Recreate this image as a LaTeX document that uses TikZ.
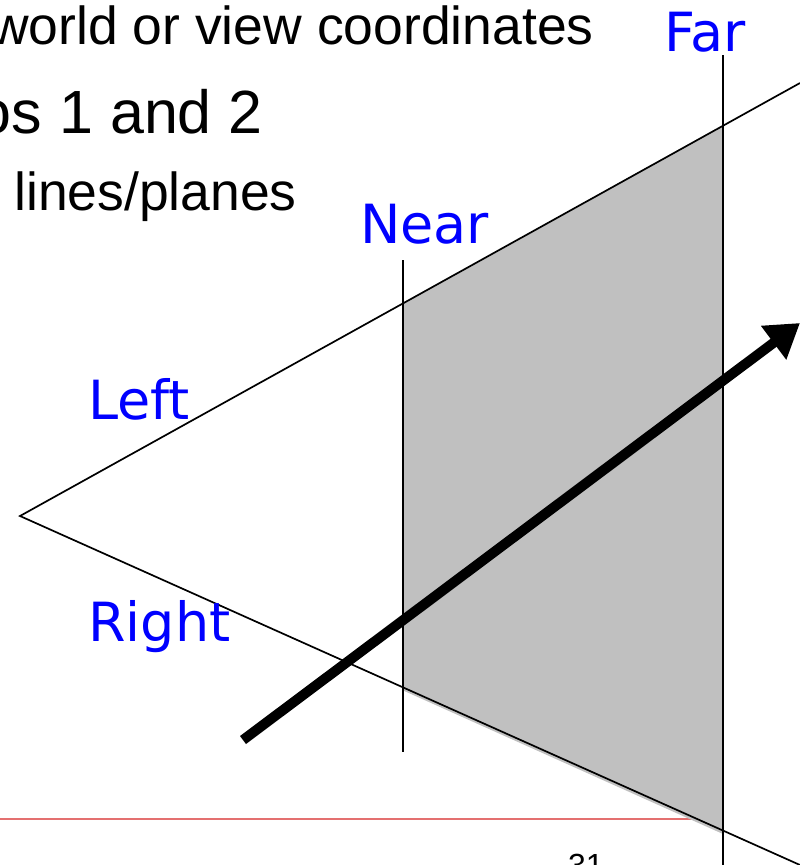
\documentclass[tikz,border=0pt]{standalone}
\usepackage{fontspec}
\setmainfont{Liberation Sans}
\newfontfamily\labfont{DejaVu Sans}
\usetikzlibrary{arrows.meta}
\definecolor{shadegray}{HTML}{C0C0C0}
\definecolor{rulered}{HTML}{E47070}
\definecolor{lblue}{HTML}{0000FF}
\begin{document}
\begin{tikzpicture}[x=1pt,y=-1pt,
  thinline/.style={line width=1.7pt, black},
  lbl/.style={text=lblue, font=\labfont\fontsize{54}{62}\selectfont, inner sep=0pt, anchor=base west},
  bodytext/.style={font=\fontsize{53.5}{60}\selectfont, inner sep=0pt, anchor=base east},
  bigtext/.style={font=\fontsize{61}{68}\selectfont, inner sep=0pt, anchor=base east}]
\useasboundingbox (0,0) rectangle (800,865);
\clip (0,0) rectangle (800,865);
\fill[white] (0,0) rectangle (800,865);
% geometry
\coordinate (apex) at (20,516);
\coordinate (upEnd) at (800,83);
\coordinate (loEnd) at (800,865);
\coordinate (nearTop) at (403,260);
\coordinate (nearBot) at (403,752);
\coordinate (farTop) at (723,55);
\coordinate (farBot) at (723,865);
\coordinate (nU) at (403,303.4);
\coordinate (fU) at (723,125.7);
\coordinate (fL) at (723,834);
\coordinate (nL) at (403,690.4);
\coordinate (ruleA) at (0,819);
\coordinate (ruleB) at (723,819);
\coordinate (arrTail) at (243,740);
\coordinate (arrHead) at (800,323);
% red rule
\draw[rulered, line width=2.5pt] (ruleA) -- (ruleB);
% shaded frustum slice
\fill[shadegray] (nU) -- (fU) -- (fL) -- (nL) -- cycle;
% frustum edges
\draw[thinline] (upEnd) -- (apex) -- (loEnd);
\draw[thinline] (nearTop) -- (nearBot);
\draw[thinline] (farTop) -- (farBot);
% arrow
\draw[line width=10pt, -{Triangle[length=33pt,width=40pt]}] (arrTail) -- (arrHead);
% text
\node[bodytext] (t1) at (594,44) {world or view coordinates};
\node[bigtext] (t2) at (263,133) {os 1 and 2};
\node[bodytext] (t3) at (297,210) {lines/planes};
\node[lbl] (near) at (360,243) {Near};
\node[lbl] (far) at (664,51) {Far};
\node[lbl] (left) at (88,419) {Left};
\node[lbl] (right) at (88,641) {Right};
\node[font=\fontsize{32}{38}\selectfont, inner sep=0pt, anchor=base west] (pg) at (568,876) {31};
\end{tikzpicture}
\end{document}
